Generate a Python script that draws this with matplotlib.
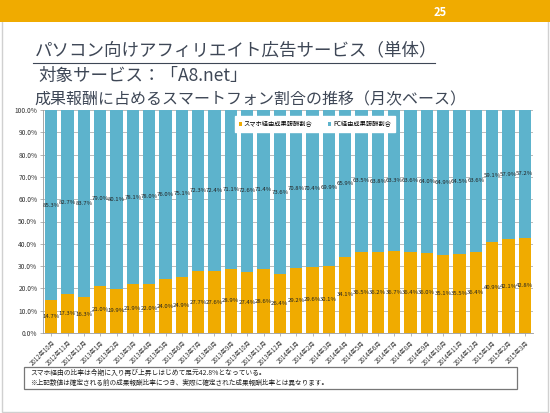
import matplotlib
matplotlib.use("Agg")
import matplotlib.pyplot as plt
from matplotlib.patches import Rectangle
import numpy as np

plt.rcParams['font.family'] = ['Noto Sans CJK JP', 'DejaVu Sans']

months = ["2012年10月", "2012年11月", "2012年12月", "2013年1月", "2013年2月", "2013年3月",
          "2013年4月", "2013年5月", "2013年6月", "2013年7月", "2013年8月", "2013年9月",
          "2013年10月", "2013年11月", "2013年12月", "2014年1月", "2014年2月", "2014年3月",
          "2014年4月", "2014年5月", "2014年6月", "2014年7月", "2014年8月", "2014年9月",
          "2014年10月", "2014年11月", "2014年12月", "2015年1月", "2015年2月", "2015年3月"]
smartphone = [14.7, 17.3, 16.3, 21.0, 19.9, 21.9, 22.0, 24.0, 24.9, 27.7, 27.6, 28.9,
              27.4, 28.6, 26.4, 29.2, 29.6, 30.1, 34.1, 36.5, 36.2, 36.7, 36.4, 36.0,
              35.1, 35.5, 36.4, 40.9, 42.1, 42.8]
pc = [85.3, 82.7, 83.7, 79.0, 80.1, 78.1, 78.0, 76.0, 75.1, 72.3, 72.4, 71.1,
      72.6, 71.4, 73.6, 70.8, 70.4, 69.9, 65.9, 63.5, 63.8, 63.3, 63.6, 64.0,
      64.9, 64.5, 63.6, 59.1, 57.9, 57.2]
series_names = ["スマホ経由成果報酬割合", "PC経由成果報酬割合"]

ORANGE = "#F0AB00"
BLUE = "#5DB3CC"
TITLE_C = "#3E4756"

fig = plt.figure(figsize=(5.5, 4.13), dpi=100)

# slide border
fig.patches.append(Rectangle((0.003, 0.003), 0.994, 0.994, transform=fig.transFigure,
                             fill=False, edgecolor="#D0D0D0", linewidth=1.0))
# header bar
fig.patches.append(Rectangle((0, 1 - 22 / 413), 1, 22 / 413, transform=fig.transFigure,
                             facecolor=ORANGE, edgecolor="none"))
fig.text(440 / 550, 1 - 12 / 413, "25", color="white", fontsize=8, fontweight="bold",
         ha="center", va="center")

fig.text(35 / 550, 1 - 50 / 413, "パソコン向けアフィリエイト広告サービス（単体）", color=TITLE_C,
         fontsize=12.6, ha="left", va="center")
fig.add_artist(plt.Line2D([33 / 550, 435 / 550], [1 - 63 / 413, 1 - 63 / 413],
                          color=TITLE_C, linewidth=0.8, transform=fig.transFigure))
fig.text(38 / 550, 1 - 76 / 413, "対象サービス：「A8.net」", color=TITLE_C,
         fontsize=12.6, ha="left", va="center")
fig.text(34 / 550, 1 - 100 / 413, "成果報酬に占めるスマートフォン割合の推移（月次ベース）", color=TITLE_C,
         fontsize=11.5, ha="left", va="center")

ax = fig.add_axes([43 / 550, 1 - 333 / 413, 490 / 550, 223 / 413])
x = np.arange(len(months))
ax.bar(x, smartphone, width=0.74, color=ORANGE, label=series_names[0], zorder=3)
ax.bar(x, pc, width=0.74, bottom=smartphone, color=BLUE, label=series_names[1], zorder=3)

for i in range(len(months)):
    ax.text(x[i], smartphone[i] / 2, f"{smartphone[i]:.1f}%", ha="center", va="center",
            fontsize=4.3, color="#222222", zorder=5)
    ax.text(x[i], smartphone[i] + pc[i] / 2, f"{pc[i]:.1f}%", ha="center", va="center",
            fontsize=4.3, color="#222222", zorder=5)

ax.set_xlim(-0.5, len(months) - 0.5)
ax.set_ylim(0, 100)
ax.set_yticks(np.arange(0, 101, 10))
ax.set_yticklabels([f"{v:.1f}%" for v in np.arange(0, 101, 10)], fontsize=4.8, color="#333333")
ax.set_xticks(x)
ax.set_xticklabels(months, rotation=45, ha="right", rotation_mode="anchor", fontsize=4.4,
                   color="#333333")
ax.tick_params(axis="both", length=2, width=0.5, color="#999999", pad=2)
ax.grid(axis="y", color="#BBBBBB", linewidth=0.7, zorder=0)
for s in ["top", "right"]:
    ax.spines[s].set_visible(False)
ax.spines["left"].set_color("#999999")
ax.spines["bottom"].set_color("#999999")
ax.spines["left"].set_linewidth(0.6)
ax.spines["bottom"].set_linewidth(0.6)

leg = ax.legend(loc="center", bbox_to_anchor=(272 / 490, 1 - 14 / 223), ncol=2, fontsize=4.5,
                frameon=True, fancybox=False, framealpha=1, edgecolor="white",
                handlelength=0.5, handleheight=0.5, columnspacing=2.5, handletextpad=0.3,
                borderpad=0.6)
leg.set_zorder(6)

# note box
fig.patches.append(Rectangle((24 / 550, 1 - 389 / 413), 493 / 550, 22 / 413,
                             transform=fig.transFigure, facecolor="white",
                             edgecolor="#777777", linewidth=0.9))
fig.text(30 / 550, 1 - 373 / 413, "スマホ経由の比率は今期に入り再び上昇しはじめて足元42.8%となっている。",
         fontsize=4.9, color="#222222", ha="left", va="center")
fig.text(30 / 550, 1 - 383 / 413, "※上記数値は確定される前の成果報酬比率につき、実際に確定された成果報酬比率とは異なります。",
         fontsize=4.8, color="#222222", ha="left", va="center")

fig.savefig("out.png", dpi=100)
